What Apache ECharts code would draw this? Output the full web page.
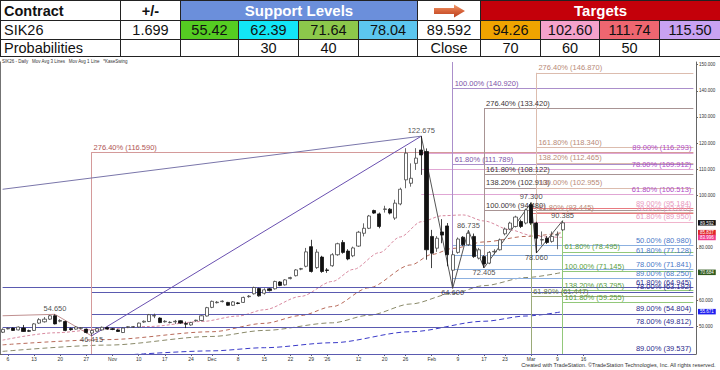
<!DOCTYPE html>
<html>
<head>
<meta charset="utf-8">
<script src="https://cdn.jsdelivr.net/npm/echarts@6/dist/echarts.min.js"></script>
<style>
html,body{margin:0;padding:0;background:#fff;}
#wrap{position:relative;width:720px;height:370px;overflow:hidden;background:#fff;}
#chart{position:absolute;left:0;top:0;width:720px;height:370px;}
#tbl{position:absolute;left:0;top:0;width:720px;border-collapse:collapse;table-layout:fixed;
 font-family:'Liberation Sans',Arial,sans-serif;font-size:14.5px;color:#111;background:#fff;}
#tbl td{border:1px solid #222;padding:0;text-align:center;white-space:nowrap;overflow:hidden;vertical-align:middle;}
#tbl tr.r1 td{height:19px;}
#tbl tr.r2 td{height:18px;}
#tbl tr.r3 td{height:16px;}
#tbl td.lft{text-align:left;padding-left:3px;}
#tbl td.bold{font-weight:bold;}
</style>
</head>
<body>
<div id="wrap">
  <div id="chart"></div>
  <table id="tbl"></table>
</div>
<script>
// ---------------- table data ----------------
const contractName = 'SIK26';
const changeValue = '1.699';
const closeValue = 89.592;
const supportLevels = [55.42, 62.39, 71.64, 78.04];
const supportColors = ['#55cc22', '#12e6f6', '#8cc84b', '#5cc6ef'];
const supportProbs = ['', '30', '40', ''];
const targetLevels = [94.26, 102.60, 111.74, 115.50];
const targetColors = ['#f0a400', '#f5a2cc', '#ef6670', '#c9a2f2'];
const targetProbs = ['70', '60', '50', ''];
const tableColWidths = [120, 60, 58, 60, 60, 59, 63, 60, 59, 60, 61];

// ---------------- chart data ----------------
const holidays = ['2025-11-27', '2025-12-25', '2026-01-01', '2026-01-19', '2026-02-16', '2026-04-03'];
const firstDate = '2025-10-03';
const categoryCount = 133;
const xTickLabels = {
  '2025-10-06': '6', '2025-10-13': '13', '2025-10-20': '20', '2025-10-27': '27',
  '2025-11-03': 'Nov', '2025-11-10': '10', '2025-11-17': '17', '2025-11-24': '24',
  '2025-12-01': 'Dec', '2025-12-08': '8', '2025-12-15': '15', '2025-12-22': '22',
  '2025-12-29': '29', '2026-01-02': "'26", '2026-01-12': '12', '2026-01-20': '20',
  '2026-01-26': '26', '2026-02-02': 'Feb', '2026-02-09': '9', '2026-02-17': '17',
  '2026-02-23': '23', '2026-03-02': 'Mar', '2026-03-09': '9', '2026-03-16': '16'
};
// 70 and 90 are hidden behind the last-value tags in the reference
const yTickValues = [50, 60, 80, 100, 110, 120, 130, 140, 150];
const yMin = 39.5, yMax = 151;

// daily bars: [open, close, low, high]
const ohlc = [
  [47.8,48.9,47.5,49.3],[49.1,49.3,48.9,49.6],[49.4,48.5,48.3,49.6],[48.7,49.8,48.5,50.0],[49.4,48.1,47.9,50.6],
  [48.4,48.2,48.0,48.8],[48.5,51.0,48.3,51.3],[51.3,52.6,51.0,53.2],[51.8,52.8,51.5,53.6],[52.8,54.1,52.5,54.4],
  [54.1,51.0,50.8,54.65],[52.0,52.3,51.6,52.8],[51.9,48.5,48.2,52.2],[49.2,48.8,48.4,49.6],[49.0,49.8,48.8,50.1],
  [49.3,49.5,49.0,49.8],[49.0,47.7,47.4,49.2],[47.5,48.5,46.415,48.8],[48.2,49.2,48.0,49.5],[48.7,49.7,48.5,50.0],
  [49.6,49.0,48.8,49.9],[49.1,48.9,48.6,49.4],[48.7,48.1,47.9,49.0],[47.7,49.4,47.5,49.6],[49.7,49.9,49.4,50.1],
  [49.8,49.9,49.5,50.2],[49.8,51.3,49.6,51.5],[51.7,52.0,51.4,52.3],[51.9,54.5,51.7,54.8],[54.0,54.2,53.2,54.9],
  [53.2,51.5,51.3,53.5],[51.8,52.0,51.5,52.4],[51.5,51.6,51.2,52.0],[51.8,52.0,51.0,52.5],[52.2,51.3,51.0,52.4],
  [51.1,50.9,49.4,51.9],[50.6,51.5,50.3,51.8],[52.2,52.4,51.8,52.6],[52.3,54.1,52.0,54.3],[54.0,57.2,53.8,57.5],
  [57.3,59.6,57.0,59.9],[59.1,59.3,58.8,59.7],[59.5,59.7,59.2,60.0],[59.2,58.1,57.9,59.4],[58.1,59.4,57.9,59.7],
  [59.0,58.8,58.5,59.3],[59.2,61.1,59.0,61.4],[61.4,61.6,61.0,62.0],[62.5,64.9,62.2,65.2],[64.5,61.7,61.4,64.8],
  [62.7,64.0,62.2,64.6],[64.4,63.7,63.4,64.7],[64.4,67.2,64.1,67.5],[67.0,65.7,65.4,67.3],[65.9,67.8,65.6,68.1],
  [68.3,68.7,68.0,69.0],[69.4,71.6,69.1,71.9],[71.9,72.1,71.5,72.4],[73.0,78.5,72.6,80.0],[80.5,71.0,70.6,83.1],
  [72.5,78.4,72.0,79.5],[76.5,71.0,70.5,77.0],[71.6,71.4,70.5,72.3],[73.2,77.4,72.8,78.0],[77.4,81.6,77.0,82.0],
  [82.1,78.3,77.8,83.0],[78.8,75.8,75.3,79.5],[77.0,80.0,76.5,80.5],[80.7,86.0,80.4,86.5],[85.6,87.5,84.4,89.4],
  [87.5,92.2,87.2,92.6],[94.3,93.3,93.0,94.6],[93.0,88.2,87.5,93.5],[94.7,94.9,93.5,96.1],[94.8,93.3,92.8,95.2],
  [91.4,97.1,90.7,98.4],[96.8,102.4,96.3,103.0],[106.0,116.2,102.8,118.1],[104.7,106.6,103.4,112.3],[112.3,114.3,109.8,118.1],
  [117.4,115.5,107.9,122.675],[116.8,79.3,75.5,118.0],[84.4,78.0,72.3,86.9],[79.9,83.7,78.5,84.5],[86.1,84.9,81.8,91.0],
  [88.4,77.4,73.0,89.5],[71.5,77.4,64.6,79.0],[78.3,83.4,77.8,84.0],[84.1,81.2,80.8,84.5],[81.2,85.6,80.8,86.735],
  [84.4,76.7,76.2,85.5],[76.1,79.3,75.6,80.0],[76.7,73.9,72.405,77.2],[74.2,78.3,73.8,78.8],[78.5,78.7,77.5,79.5],
  [79.3,83.1,79.0,83.6],[85.4,87.2,84.8,87.8],[87.2,89.5,86.8,90.0],[88.2,91.8,87.8,92.3],[90.1,88.2,87.6,90.8],
  [89.5,94.5,89.0,95.0],[96.5,89.5,88.8,97.3],[89.5,83.7,78.06,90.0],[83.0,83.2,81.2,86.3],[83.7,82.1,81.5,84.5],
  [82.5,84.4,82.0,86.3],[84.9,85.1,79.5,86.3],[86.9,89.592,86.5,90.385]
];

// moving averages: [barIndex, value]
const maFast = [[0,44.8],[10,47.6],[19,49.0],[28,50.0],[38,51.9],[45,54.0],[50,56.4],[57,61.5],[63,67.2],[67,71.8],[72,78.2],[76,84.2],[80,90.0],[84,92.3],[88,92.6],[92,90.3],[97,86.9],[101,84.8],[104,84.2],[107,83.996]];
const maMedium = [[0,43.0],[20,45.0],[40,48.0],[50,51.2],[57,54.2],[63,57.6],[70,64.8],[78,73.5],[82,77.5],[86,79.8],[92,82.3],[100,84.4],[107,85.837]];
const maSlow = [[0,40.5],[20,42.9],[40,46.2],[50,48.5],[63,51.4],[70,54.3],[78,58.6],[86,62.6],[92,65.6],[100,68.7],[107,70.684]];
const maLong = [[25,39.3],[40,40.7],[50,41.9],[63,43.8],[78,48.0],[92,52.0],[100,54.0],[107,55.671]];

// Fibonacci lines with label at their start: [value, startBar, label, group]
const fibStartLevels = [
  [116.590, 17, '276.40% (116.590)', 'L'],
  [140.920, 86, '100.00% (140.920)', 'A'],
  [111.789, 86, '61.80% (111.789)', 'A'],
  [133.420, 92, '276.40% (133.420)', 'B'],
  [108.122, 92, '161.80% (108.122)', 'B'],
  [102.913, 92, '138.20% (102.913)', 'B'],
  [94.480, 92, '100.00% (94.480)', 'B'],
  [146.870, 102, '276.40% (146.870)', 'C'],
  [118.340, 102, '161.80% (118.340)', 'C'],
  [112.465, 102, '138.20% (112.465)', 'C'],
  [102.955, 102, '100.00% (102.955)', 'C'],
  [93.445, 102, '61.80% (93.445)', 'C'],
  [78.495, 107, '61.80% (78.495)', 'G'],
  [71.145, 107, '100.00% (71.145)', 'G'],
  [63.795, 107, '138.20% (63.795)', 'G'],
  [59.255, 107, '161.80% (59.255)', 'G'],
  [61.447, 101, '61.80% (61.447)', 'H'],
  [39.285, 101, '100.00% (39.285)', 'H']
];
// retracement lines with label at the right end: [value, startBar, label, group]
const fibEndLevels = [
  [116.293, 80, '89.00% (116.293)', 'D'],
  [109.912, 80, '78.00% (109.912)', 'D'],
  [100.513, 80, '61.80% (100.513)', 'D'],
  [95.184, 101, '89.00% (95.184)', 'D2'],
  [93.067, 101, '78.00% (93.067)', 'D2'],
  [89.950, 101, '61.80% (89.950)', 'D3'],
  [80.980, 86, '50.00% (80.980)', 'E'],
  [77.128, 86, '61.80% (77.128)', 'E'],
  [71.841, 86, '78.00% (71.841)', 'E'],
  [68.250, 86, '89.00% (68.250)', 'E'],
  [64.945, 0, '61.80% (64.945)', 'F'],
  [63.192, 17, '78.00% (63.192)', 'F'],
  [54.804, 17, '89.00% (54.804)', 'F'],
  [49.812, 0, '78.00% (49.812)', 'F'],
  [39.537, 0, '89.00% (39.537)', 'F']
];
// vertical anchors: [bar, fromValue, toValue, group]
const fibVerticals = [
  [17, yMin, 116.590, 'L'],
  [86, 64.600, yMax, 'A'],
  [92, 72.405, 133.420, 'B'],
  [102, 78.060, 146.870, 'C'],
  [107, yMin, 90.385, 'G'],
  [101, yMin, 97.300, 'H']
];
// swing lines
const earlySwing = [[0, 54.1], [10, 54.65], [17, 46.415]];
const trendLines = [[[17, 46.415], [80, 122.675]], [[0, 102.4], [80, 122.675]]];
const zigzag = [[80, 122.675], [86, 64.6], [89, 86.735], [92, 72.405], [101, 97.3], [102, 78.06], [107, 90.385]];
// swing labels: [bar, value, text, position, distance]
const swingLabels = [
  [10, 54.65, '54.650', 'top', 2], [17, 46.415, '46.415', 'bottom', 0],
  [80, 122.675, '122.675', 'top', 2], [86, 64.6, '64.600', 'bottom', 0],
  [89, 86.735, '86.735', 'top', 1], [92, 72.405, '72.405', 'bottom', 1],
  [101, 97.3, '97.300', 'top', 2], [102, 78.06, '78.060', 'bottom', 0],
  [107, 90.385, '90.385', 'top', 1]
];
// last-value tags on the price axis: [value, background]
const axisTags = [[89.592, '#111111'], [85.837, '#e02828'], [83.996, '#f03c8c'], [70.684, '#2f5a1c'], [55.671, '#1e1ef0']];

const chartHeader = 'SIK26 - Daily   Mov Avg 3 Lines   Mov Avg 1 Line   *KaseSwing';
const footerText = 'Created with TradeStation. \u00A9TradeStation Technologies, Inc. All rights reserved.';

// ---------------- build table ----------------
(function buildTable() {
  const t = document.getElementById('tbl');
  let html = '<colgroup>' + tableColWidths.map(w => '<col style="width:' + w + 'px">').join('') + '</colgroup>';
  const arrow = '<svg width="34" height="14" viewBox="0 0 34 14"><defs><linearGradient id="ag" x1="0" y1="0" x2="0" y2="1">' +
    '<stop offset="0" stop-color="#f2a070"/><stop offset="0.5" stop-color="#d8643a"/><stop offset="1" stop-color="#b84020"/></linearGradient></defs>' +
    '<polygon points="2,4 22,4 22,0.5 33,7 22,13.5 22,10 2,10" fill="url(#ag)"/></svg>';
  html += '<tr class="r1"><td class="lft bold">Contract</td><td class="bold">+/-</td>' +
    '<td colspan="4" class="bold" style="background:#6b8fdb;color:#fff;font-size:15px">Support Levels</td>' +
    '<td style="line-height:0">' + arrow + '</td>' +
    '<td colspan="4" class="bold" style="background:#c4000a;color:#fff;font-size:15px">Targets</td></tr>';
  html += '<tr class="r2"><td class="lft">' + contractName + '</td><td>' + changeValue + '</td>' +
    supportLevels.map((v, i) => '<td style="background:' + supportColors[i] + '">' + v.toFixed(2) + '</td>').join('') +
    '<td>' + closeValue.toFixed(3) + '</td>' +
    targetLevels.map((v, i) => '<td style="background:' + targetColors[i] + '">' + v.toFixed(2) + '</td>').join('') + '</tr>';
  html += '<tr class="r3"><td class="lft">Probabilities</td><td></td>' +
    supportProbs.map(p => '<td>' + p + '</td>').join('') + '<td>Close</td>' +
    targetProbs.map(p => '<td>' + p + '</td>').join('') + '</tr>';
  t.innerHTML = html;
})();

// ---------------- categories ----------------
function tradingDays(start, count) {
  const out = [];
  const d = new Date(start + 'T00:00:00Z');
  while (out.length < count) {
    const s = d.toISOString().slice(0, 10);
    const wd = d.getUTCDay();
    if (wd !== 0 && wd !== 6 && holidays.indexOf(s) < 0) out.push(s);
    d.setUTCDate(d.getUTCDate() + 1);
  }
  return out;
}
const dates = tradingDays(firstDate, categoryCount);
const lastBar = dates.length - 1;

// ---------------- styles ----------------
const groupStyle = {
  L: {line: '#d49a9a', text: '#b05454'},
  A: {line: '#ab8fcb', text: '#7c52a8'},
  B: {line: '#a89494', text: '#3c3434'},
  C: {line: '#dcbcae', text: '#b88a78'},
  D: {line: '#e0a6d4', text: '#b04ac8'},
  D2: {line: '#e87a80', text: '#e89ac0'},
  D3: {line: '#f0b4cc', text: '#e89ac0'},
  E: {line: '#8cb0e0', text: '#4a78c8'},
  F: {line: '#5a5ab0', text: '#2a2a8c'},
  G: {line: '#92c87a', text: '#5aa040'},
  H: {line: '#9aaa78', text: '#6a8040'}
};

const markLines = [];
fibStartLevels.forEach(([v, s, text, g]) => {
  markLines.push([{coord: [s, v], lineStyle: {color: groupStyle[g].line},
    label: {show: true, position: 'insideStartTop', formatter: text, color: groupStyle[g].text}},
    {coord: [lastBar, v]}]);
});
fibEndLevels.forEach(([v, s, text, g]) => {
  markLines.push([{coord: [s, v], lineStyle: {color: groupStyle[g].line},
    label: {show: true, position: 'insideEndTop', formatter: text, color: groupStyle[g].text}},
    {coord: [lastBar, v]}]);
});
fibVerticals.forEach(([i, a, b, g]) => {
  markLines.push([{coord: [i, a], lineStyle: {color: groupStyle[g].line}, label: {show: false}}, {coord: [i, b]}]);
});
for (let k = 0; k < earlySwing.length - 1; k++) {
  markLines.push([{coord: earlySwing[k], lineStyle: {color: '#c09090'}, label: {show: false}}, {coord: earlySwing[k + 1]}]);
}
trendLines.forEach(([p, q], k) => {
  markLines.push([{coord: p, lineStyle: {color: k === 0 ? '#6a50b0' : '#7a76aa'}, label: {show: false}}, {coord: q}]);
});
for (let k = 0; k < zigzag.length - 1; k++) {
  markLines.push([{coord: zigzag[k], lineStyle: {color: '#555555'}, label: {show: false}}, {coord: zigzag[k + 1]}]);
}

// rich styles for the value tags on the price axis
const tagRich = {};
axisTags.forEach(([v, bg], k) => {
  tagRich['t' + k] = {backgroundColor: bg, color: '#ffffff', fontSize: 4.5, lineHeight: 5, padding: [0.5, 2, 0, 2]};
});
const tagValues = axisTags.map(t => t[0]);

function maSeries(data, color, dash) {
  return {type: 'line', data: data, showSymbol: false, symbol: 'none', smooth: 0.3, smoothMonotone: 'x',
    lineStyle: {color: color, width: 1, type: dash}, silent: true, z: 3};
}

const chart = echarts.init(document.getElementById('chart'), null, {renderer: 'svg'});
chart.setOption({
  animation: false,
  backgroundColor: '#ffffff',
  textStyle: {fontFamily: 'Liberation Sans, Arial, sans-serif'},
  title: [
    {text: chartHeader, left: 2, top: 59, padding: 0,
      textStyle: {fontSize: 4.5, fontWeight: 'normal', color: '#333'}},
    {text: footerText, right: 4, bottom: 2, padding: 0,
      textStyle: {fontSize: 5.5, fontWeight: 'normal', color: '#333'}}
  ],
  grid: {left: 0, right: 24, top: 62, bottom: 16},
  xAxis: {
    type: 'category', data: dates, boundaryGap: true,
    axisLine: {show: true, lineStyle: {color: '#666', width: 1}},
    axisTick: {show: true, alignWithLabel: true, length: 2, lineStyle: {color: '#666'},
      interval: (i, v) => xTickLabels[v] !== undefined},
    axisLabel: {fontSize: 5, color: '#333', margin: 2,
      interval: (i, v) => xTickLabels[v] !== undefined,
      formatter: v => xTickLabels[v] || ''},
    splitLine: {show: false}
  },
  yAxis: [
    {type: 'value', position: 'right', min: yMin, max: yMax, scale: true,
      axisLine: {show: true, lineStyle: {color: '#666', width: 1}},
      axisTick: {show: true, length: 2, customValues: yTickValues, lineStyle: {color: '#666'}},
      axisLabel: {show: true, fontSize: 4.5, color: '#333', margin: 3, customValues: yTickValues,
        formatter: v => v.toFixed(3)},
      splitLine: {show: false}},
    {type: 'value', position: 'left', min: yMin, max: yMax,
      axisLine: {show: true, onZero: false, lineStyle: {color: '#444', width: 1.5}},
      axisTick: {show: false}, axisLabel: {show: false}, splitLine: {show: false}},
    {type: 'value', position: 'right', min: yMin, max: yMax, offset: 0,
      axisLine: {show: false}, axisTick: {show: false}, splitLine: {show: false},
      axisLabel: {show: true, margin: 2, customValues: tagValues, rich: tagRich,
        formatter: v => {
          const k = tagValues.findIndex(t => Math.abs(t - v) < 1e-6);
          return k < 0 ? '' : '{t' + k + '|' + v.toFixed(3) + '}';
        }}}
  ],
  series: [
    maSeries(maLong, '#3a3ac8', [5, 3]),
    maSeries(maSlow, '#8a8a6a', [5, 3]),
    maSeries(maMedium, '#b86a5a', [4, 3]),
    maSeries(maFast, '#d88aa0', [3, 2]),
    {
      type: 'line', name: 'overlay', data: [[lastBar, closeValue]], symbol: 'none',
      lineStyle: {opacity: 0}, clip: false, silent: true, z: 4,
      markLine: {
        silent: true, symbol: ['none', 'none'], animation: false, precision: 3,
        lineStyle: {width: 1, type: 'solid', opacity: 1},
        label: {fontSize: 7.5, distance: [2, 1], fontFamily: 'Liberation Sans, Arial, sans-serif'},
        emphasis: {disabled: true},
        data: markLines
      }
    },
    {
      type: 'candlestick', data: ohlc, barWidth: 3.6, z: 5, silent: true,
      itemStyle: {color: '#ffffff', color0: '#111111', borderColor: '#444444', borderColor0: '#111111', borderWidth: 0.8}
    },
    {
      type: 'scatter', symbolSize: 0.1, silent: true, z: 6,
      itemStyle: {color: 'rgba(0,0,0,0)'},
      label: {show: true, fontSize: 7.5, color: '#222'},
      data: swingLabels.map(([i, v, t, pos, d]) => ({
        value: [i, v], label: {show: true, position: pos, distance: d, formatter: t}
      }))
    }
  ]
});
</script>
</body>
</html>
